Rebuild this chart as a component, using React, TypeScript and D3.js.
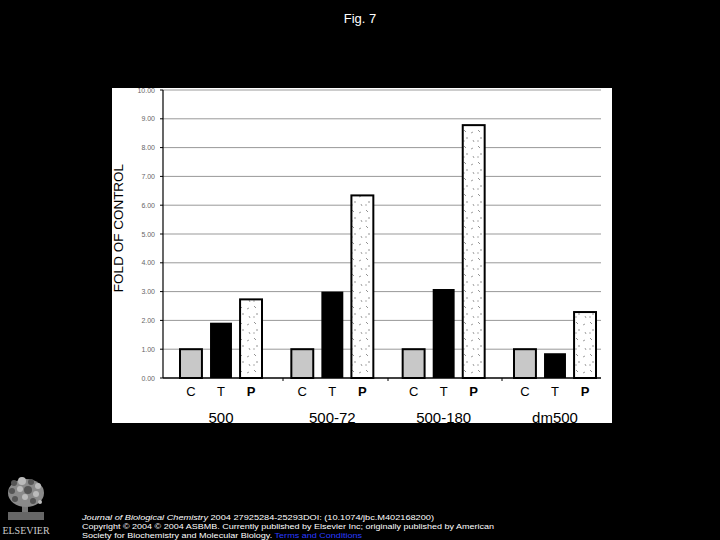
import React from "react";
import * as d3 from "d3";

const groups = ["500", "500-72", "500-180", "dm500"];
const treatments = ["C", "T", "P"];
const valuesC = [1.0, 1.0, 1.0, 1.0];
const valuesT = [1.92, 3.0, 3.09, 0.86];
const valuesP = [2.73, 6.34, 8.78, 2.29];
const yTicks = [0, 1, 2, 3, 4, 5, 6, 7, 8, 9, 10];
const footerLine2 =
  "Copyright © 2004 © 2004 ASBMB. Currently published by Elsevier Inc; originally published by American";

const W = 720;
const H = 540;

export default function App() {
  const y = d3.scaleLinear().domain([0, 10]).range([378, 90]);
  const xGroup = d3.scalePoint<string>().domain(groups).range([221, 555]);
  const xSub = d3.scaleBand<string>().domain(treatments).range([-41, 41]).paddingInner(0.27);
  const series = [valuesC, valuesT, valuesP];
  const fills = ["#c8c8c8", "#000000", "url(#dots)"];

  const bars: JSX.Element[] = [];
  groups.forEach((g, gi) => {
    treatments.forEach((t, ti) => {
      const v = series[ti][gi];
      const x0 = (xGroup(g) as number) + (xSub(t) as number);
      bars.push(
        <rect
          key={g + t}
          x={x0}
          y={y(v)}
          width={xSub.bandwidth()}
          height={y(0) - y(v)}
          fill={fills[ti]}
          stroke="#000"
          strokeWidth={ti === 1 ? 0 : 2}
        />
      );
    });
  });

  const treeSpots = [
    [14, 483, 3], [22, 481, 4], [31, 482, 3], [38, 486, 3], [12, 491, 3], [20, 489, 3],
    [28, 490, 4], [36, 494, 3], [15, 499, 3], [25, 497, 3], [33, 501, 3], [40, 502, 2],
  ];

  return (
    <svg width={W} height={H} style={{ position: "absolute", left: 0, top: 0, background: "#000" }}
      fontFamily="Liberation Sans, Arial, sans-serif">
      <defs>
        <pattern id="dots" width="14" height="16" patternUnits="userSpaceOnUse">
          <rect width="14" height="16" fill="#fff" />
          <line x1="2" y1="2" x2="4" y2="4" stroke="#777" strokeWidth="0.8" />
          <line x1="9" y1="5" x2="11" y2="4" stroke="#888" strokeWidth="0.8" />
          <line x1="5" y1="9" x2="5" y2="11" stroke="#777" strokeWidth="0.8" />
          <line x1="11" y1="12" x2="12" y2="14" stroke="#888" strokeWidth="0.8" />
          <line x1="1" y1="13" x2="3" y2="13" stroke="#999" strokeWidth="0.8" />
        </pattern>
      </defs>
      <rect x={0} y={0} width={W} height={H} fill="#000" />
      <text x={360} y={23} textAnchor="middle" fill="#fff" fontSize={13}>Fig. 7</text>

      <rect x={112} y={88} width={500} height={335} fill="#fff" />

      {yTicks.map((t) => (
        <g key={t}>
          {t > 0 && <line x1={163} x2={601} y1={y(t)} y2={y(t)} stroke="#999" strokeWidth={1} />}
          <line x1={160} x2={163} y1={y(t)} y2={y(t)} stroke="#000" />
          <text x={155} y={y(t) + 2.5} textAnchor="end" fontSize={7} fill="#666">{t.toFixed(2)}</text>
        </g>
      ))}
      <line x1={163} x2={163} y1={y(10)} y2={y(0)} stroke="#000" strokeWidth={1.2} />
      <line x1={163} x2={601} y1={y(0)} y2={y(0)} stroke="#000" strokeWidth={1.5} />
      {[283, 388, 502].map((xx) => (
        <line key={xx} x1={xx} x2={xx} y1={y(0)} y2={y(0) + 3} stroke="#000" />
      ))}

      {bars}

      {groups.map((g) => (
        <g key={g}>
          {treatments.map((t) => (
            <text key={t} x={(xGroup(g) as number) + (xSub(t) as number) + xSub.bandwidth() / 2}
              y={396} textAnchor="middle" fontSize={13} fontWeight={t === "P" ? "bold" : "normal"} fill="#000">{t}</text>
          ))}
          <text x={xGroup(g) as number} y={422.5} textAnchor="middle" fontSize={15} fill="#000">{g}</text>
        </g>
      ))}

      <text transform="translate(123,228) rotate(-90)" textAnchor="middle" fontSize={13.5} fill="#000">FOLD OF CONTROL</text>

      <g>
        <rect x={22} y={500} width={6} height={18} fill="#777" />
        <ellipse cx={26} cy={493} rx={18} ry={14} fill="#8a8a8a" />
        {treeSpots.map(([cx, cy, r], i) => (
          <circle key={i} cx={cx} cy={cy} r={r} fill={i % 2 ? "#bbb" : "#555"} />
        ))}
        <rect x={8} y={512} width={36} height={8} fill="#666" />
        <text x={26} y={534} textAnchor="middle" fontSize={10} fill="#ccc" fontFamily="Liberation Serif, serif">ELSEVIER</text>
      </g>
      <text x={82} y={520} fontSize={8} fill="#fff" textLength={352} lengthAdjust="spacingAndGlyphs">
        <tspan fontStyle="italic">Journal of Biological Chemistry</tspan> 2004 27925284-25293DOI: (10.1074/jbc.M402168200)
      </text>
      <text x={82} y={529} fontSize={8} fill="#fff" textLength={412} lengthAdjust="spacingAndGlyphs">{footerLine2}</text>
      <text x={82} y={538} fontSize={8} fill="#fff" textLength={280} lengthAdjust="spacingAndGlyphs">
        Society for Biochemistry and Molecular Biology. <tspan fill="#2a3cff">Terms and Conditions</tspan>
      </text>
    </svg>
  );
}
